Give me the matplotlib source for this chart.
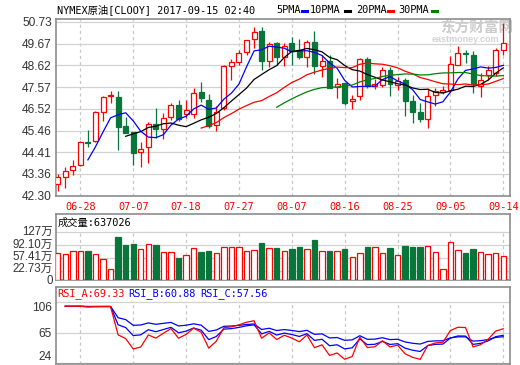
import numpy as np
import pandas as pd
import matplotlib
matplotlib.use("Agg")
import matplotlib.pyplot as plt
import matplotlib.transforms as mtransforms
from matplotlib.patches import Rectangle
from matplotlib.lines import Line2D

plt.rcParams["font.family"] = ["Liberation Sans", "Noto Sans CJK SC"]
MONO = ["DejaVu Sans Mono", "Noto Sans CJK SC"]

# daily candles, 60 sessions (06-23 .. 09-14)
OPEN = [42.87, 43.22, 43.53, 43.78, 44.93, 44.94, 46.34, 47.13, 47.08, 45.68,
        45.39, 44.41, 44.65, 45.76, 45.53, 46.13, 46.68, 46.25, 46.25, 47.32,
        46.95, 45.73, 46.55, 48.57, 48.76, 49.25, 49.91, 50.29, 48.84, 49.68,
        49.01, 49.68, 49.34, 49.04, 49.75, 48.60, 48.83, 47.57, 47.76, 46.89,
        47.15, 48.92, 47.62, 47.68, 48.38, 47.68, 47.92, 46.90, 46.36, 46.02,
        47.17, 47.32, 47.41, 48.65, 49.23, 49.10, 47.64, 48.16, 48.25, 49.37]
HIGH = [43.34, 43.68, 44.03, 44.95, 45.49, 46.41, 47.15, 47.37, 47.37, 46.13,
        45.40, 44.92, 45.89, 46.54, 46.29, 46.78, 46.95, 46.95, 47.52, 47.81,
        47.23, 46.63, 48.65, 48.94, 49.37, 49.85, 50.47, 50.46, 49.76, 49.73,
        49.70, 50.00, 49.88, 49.85, 50.28, 49.12, 49.13, 48.00, 47.78, 47.20,
        48.97, 49.00, 47.95, 48.55, 48.54, 48.07, 48.00, 47.20, 46.79, 47.52,
        47.52, 47.60, 49.06, 49.54, 49.37, 49.32, 48.25, 48.57, 49.46, 50.67]
LOW = [42.55, 42.69, 43.31, 43.75, 44.68, 44.90, 45.92, 46.78, 44.52, 45.36,
       43.79, 43.68, 43.90, 45.08, 45.03, 45.95, 45.91, 46.07, 46.07, 46.84,
       45.58, 45.45, 46.47, 47.92, 48.65, 49.10, 49.46, 48.41, 48.55, 48.63,
       48.58, 48.63, 48.91, 48.55, 48.20, 48.04, 47.52, 47.03, 46.71, 46.52,
       46.95, 47.52, 47.45, 47.55, 47.12, 47.42, 46.15, 45.82, 45.87, 45.58,
       46.65, 47.23, 47.32, 48.62, 48.73, 47.28, 47.07, 47.92, 48.09, 49.13]
CLOSE = [43.19, 43.49, 43.74, 44.90, 44.88, 46.36, 47.07, 47.17, 45.65, 45.36,
         44.39, 44.55, 45.77, 45.52, 46.08, 46.70, 46.02, 46.44, 47.29, 47.02,
         45.66, 46.36, 48.57, 48.76, 49.21, 49.83, 50.22, 48.84, 49.63, 49.00,
         49.57, 49.33, 49.02, 49.73, 48.57, 48.83, 47.53, 47.73, 46.79, 46.99,
         48.92, 47.63, 47.72, 48.39, 47.71, 47.88, 46.87, 46.34, 46.03, 47.12,
         47.36, 47.42, 48.70, 49.21, 49.19, 47.71, 47.91, 48.41, 49.37, 49.70]
# volume in 万 contracts
VOLUME = [70.6, 68.0, 75.9, 75.9, 75.9, 68.0, 55.6, 29.1, 113.8, 92.6,
          95.3, 82.0, 94.5, 92.6, 73.3, 73.3, 58.2, 65.4, 83.9, 73.3,
          76.7, 70.6, 86.5, 86.5, 86.5, 75.9, 78.6, 97.1, 83.9, 83.9,
          75.9, 82.0, 86.5, 81.2, 105.8, 75.9, 75.9, 75.9, 82.0, 61.7,
          72.2, 86.5, 86.5, 70.6, 83.9, 65.4, 89.2, 86.5, 86.5, 89.2,
          73.3, 28.3, 99.8, 78.6, 70.6, 82.0, 73.3, 68.0, 70.6, 63.7]

DATE_IDX = [3, 10, 17, 24, 31, 38, 45, 52, 59]
DATE_LABELS = ["06-28", "07-07", "07-18", "07-27", "08-07",
               "08-16", "08-25", "09-05", "09-14"]
PRICE_TICKS = [42.30, 43.36, 44.41, 45.46, 46.52, 47.57, 48.62, 49.67, 50.73]
VOL_TICKS = [0, 22.73, 57.41, 92.10, 127]
VOL_LABELS = ["0", "22.73万", "57.41万", "92.10万", "127万"]
RSI_TICKS = [24, 65, 106]

RED = "#ff0000"
GREEN = "#08753a"
BLUE = "#0000ff"
SPINE = "#8c8c8c"
GRID = "#d2d2d2"
XLIM = (-0.225, 59.89)


def sma_rsi(close, n):
    d = close.diff()
    up = d.clip(lower=0).ewm(alpha=1 / n, adjust=False).mean()
    dn = d.abs().ewm(alpha=1 / n, adjust=False).mean()
    return up / dn * 100


def frame(a):
    for s in a.spines.values():
        s.set_color(SPINE)
        s.set_linewidth(1.2)
    a.set_xlim(*XLIM)
    a.tick_params(length=0, labelsize=8.6, labelcolor="#333333", pad=3)
    a.set_axisbelow(True)


x = np.arange(len(CLOSE))
close = pd.Series(CLOSE)
up = [c >= o for o, c in zip(OPEN, CLOSE)]

fig = plt.figure(figsize=(5.2, 3.65), dpi=100)
ax = fig.add_axes([0.10769, 0.46301, 0.87308, 0.4841])
axv = fig.add_axes([0.10769, 0.23288, 0.87308, 0.18])
axr = fig.add_axes([0.10769, 0.00137, 0.87308, 0.21151])

# --- price panel
frame(ax)
ax.set_ylim(42.29, 50.85)
ax.set_yticks(PRICE_TICKS)
ax.set_yticklabels([f"{v:.2f}" for v in PRICE_TICKS])
ax.set_xticks(DATE_IDX)
ax.set_xticklabels(DATE_LABELS, color=RED, fontfamily=MONO, fontsize=7.4)
ax.tick_params(axis="x", pad=4.5)
ax.grid(axis="y", color=GRID, lw=0.9)
ax.grid(axis="x", color="#c8c8c8", lw=0.9, ls=(0, (2.5, 2.5)))

ax.text(0.846, 0.945, "东方财富网", transform=ax.transAxes, fontsize=10.5,
        fontweight="bold", color="#cccccc", va="center", zorder=1)
ax.text(0.828, 0.883, "eastmoney.com", transform=ax.transAxes, fontsize=6.5,
        fontweight="bold", color="#d4d4d4", va="center", zorder=1)

for i in x:
    col = RED if up[i] else GREEN
    ax.vlines(i, LOW[i], HIGH[i], color=col, lw=0.9, zorder=3)
    lo = min(OPEN[i], CLOSE[i])
    h = max(abs(CLOSE[i] - OPEN[i]), 0.02)
    ax.add_patch(Rectangle((i - 0.33, lo), 0.66, h, lw=0.9, edgecolor=col,
                           facecolor="white" if up[i] else GREEN, zorder=4))

for n, col in [(5, BLUE), (10, "black"), (20, RED), (30, "#008000")]:
    ax.plot(x, close.rolling(n).mean(), color=col, lw=0.9, zorder=5)

# title + MA legend
fig.text(57 / 520, 1 - 10 / 365, "NYMEX原油[CLOOY] 2017-09-15 02:40",
         family=MONO, fontsize=7.4, va="center")
for label, lx, (d0, d1), col in [("5PMA", 276, (301.7, 306.7), BLUE),
                                 ("10PMA", 310, (345, 350), "black"),
                                 ("20PMA", 356, (388, 393), RED),
                                 ("30PMA", 398, (431.7, 436.7), "#008000")]:
    fig.text(lx / 520, 1 - 10 / 365, label, family=MONO, fontsize=7.4, va="center")
    fig.add_artist(Line2D([d0 / 520, d1 / 520], [1 - 10.7 / 365] * 2,
                          color=col, lw=2.2))

# --- volume panel
frame(axv)
axv.set_ylim(0, 173.8)
axv.set_yticks(VOL_TICKS)
axv.set_yticklabels([])
axv.set_xticks([])
axv.grid(axis="y", color=GRID, lw=0.9)
# labels drawn by hand so the two bottom ones don't collide
ytrans = mtransforms.blended_transform_factory(axv.transAxes, axv.transData)
for v, lab, dy in zip(VOL_TICKS, VOL_LABELS, [-1.5, 3.0, 1.0, 0.0, 0.0]):
    off = mtransforms.ScaledTranslation(0, dy / 100, fig.dpi_scale_trans)
    axv.text(-0.0075, v, lab, transform=ytrans + off, ha="right", va="center",
             fontsize=8.3, color="#333333")
axv.vlines(DATE_IDX, 0, 127, color="#c8c8c8", lw=0.9, ls=(0, (2.5, 2.5)), zorder=1)
axv.bar(x, VOLUME, width=0.72, lw=0.9,
        color=["white" if u else GREEN for u in up],
        edgecolor=[RED if u else GREEN for u in up], zorder=3)
fig.text(57.3 / 520, 1 - 222.3 / 365, "成交量:637026", family=MONO,
         fontsize=7.4, va="center")

# --- RSI panel
frame(axr)
axr.set_ylim(22.4, 125.3)
axr.set_yticks(RSI_TICKS)
axr.set_yticklabels([str(v) for v in RSI_TICKS])
lbls = axr.get_yticklabels()
lbls[0].set_va("bottom")
lbls[2].set_va("top")
axr.set_xticks([])
axr.grid(axis="y", color=GRID, lw=0.9)
axr.vlines(DATE_IDX, 22.4, 106, color="#c8c8c8", lw=0.9, ls=(0, (2.5, 2.5)), zorder=1)
axr.plot(x, sma_rsi(close, 24), color=BLUE, lw=0.9, zorder=3)
axr.plot(x, sma_rsi(close, 12), color=BLUE, lw=0.9, zorder=3)
axr.plot(x, sma_rsi(close, 6), color=RED, lw=0.9, zorder=4)
for txt, lx, col in [("RSI_A:69.33", 57, RED), ("RSI_B:60.88", 128, BLUE),
                     ("RSI_C:57.56", 200, BLUE)]:
    fig.text(lx / 520, 1 - 294 / 365, txt, family=MONO, fontsize=7.4,
             color=col, va="center")

fig.savefig("out.png", dpi=100, facecolor="white")
